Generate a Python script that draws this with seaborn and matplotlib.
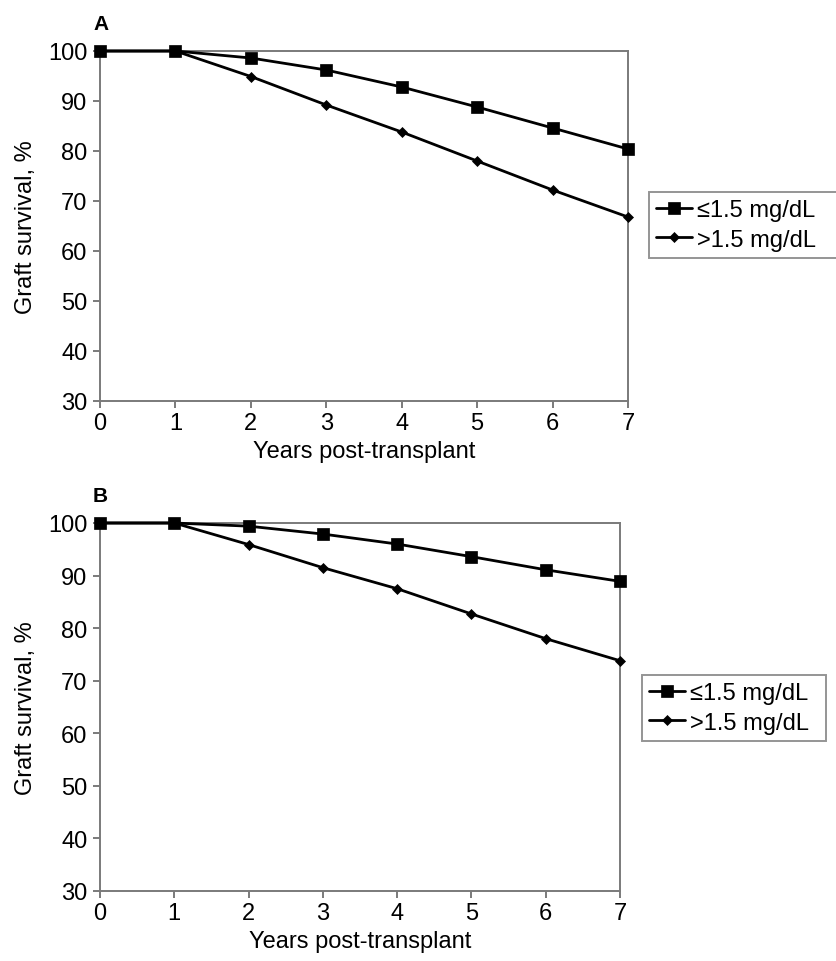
import matplotlib
matplotlib.use('Agg')
import matplotlib.pyplot as plt
import seaborn as sns
import pandas as pd

sns.set_style('white')
plt.rcParams['font.family'] = ['Liberation Sans', 'DejaVu Sans']
plt.rcParams['text.color'] = 'black'
plt.rcParams['axes.labelcolor'] = 'black'

# data
years = [0, 1, 2, 3, 4, 5, 6, 7]
a_low = [100, 100, 98.6, 96.2, 92.8, 88.8, 84.6, 80.4]
a_high = [100, 100, 94.9, 89.2, 83.8, 78.0, 72.2, 66.8]
b_low = [100, 100, 99.4, 97.9, 96.0, 93.6, 91.1, 88.9]
b_high = [100, 100, 95.9, 91.5, 87.5, 82.7, 78.0, 73.8]
labels = ['\u22641.5 mg/dL', '>1.5 mg/dL']
yticks = [30, 40, 50, 60, 70, 80, 90, 100]

W, H = 836, 962
FS = 17
GREY = '#7a7a7a'

fig = plt.figure(figsize=(W / 100, H / 100), dpi=100)

# panel name, series, axes box (px), legend box (px)
panels = [
    ('A', a_low, a_high, (100, 52, 628, 402), (649, 193, 850, 260)),
    ('B', b_low, b_high, (100, 524, 620, 892), (642, 676, 826, 740)),
]

for name, low, high, box, lbox in panels:
    x0, y0, x1, y1 = box
    ax = fig.add_axes([x0 / W, 1 - y1 / H, (x1 - x0) / W, (y1 - y0) / H])
    df = pd.DataFrame({
        'year': years * 2,
        'surv': high + low,
        'group': [labels[1]] * len(years) + [labels[0]] * len(years),
    })
    sns.lineplot(data=df, x='year', y='surv', hue='group', style='group',
                 palette=['black', 'black'], markers=['D', 's'],
                 dashes=False, ax=ax, linewidth=2.0, legend=False,
                 clip_on=False, zorder=3)
    lines = ax.get_lines()
    lines[0].set_markersize(4.8)
    lines[1].set_markersize(8.5)
    lines[1].set_zorder(4)
    for ln in lines:
        ln.set_markeredgecolor('black')
        ln.set_markeredgewidth(0.5)

    ax.set_xlim(0, 7)
    ax.set_ylim(30, 100)
    ax.set_xticks(years)
    ax.set_yticks(yticks)
    for s in ax.spines.values():
        s.set_color(GREY)
        s.set_linewidth(1.4)
    ax.tick_params(axis='both', direction='out', length=5, width=1.4,
                   color=GREY, labelcolor='black', labelsize=FS,
                   left=True, bottom=True)
    ax.tick_params(axis='x', pad=3)
    ax.tick_params(axis='y', pad=4)
    ax.set_xlabel('Years post-transplant', fontsize=FS, labelpad=4)
    ax.set_ylabel('Graft survival, %', fontsize=FS, labelpad=8)
    ax.annotate(name, xy=(0, 1), xycoords='axes fraction',
                xytext=(-5, 16), textcoords='offset points',
                fontsize=15, fontweight='bold', ha='left', va='baseline')

    lx0, ly0, lx1, ly1 = lbox
    leg = ax.legend(handles=[lines[1], lines[0]], labels=labels,
                    loc='upper left', mode='expand',
                    bbox_to_anchor=(lx0 / W, 1 - ly0 / H, (lx1 - lx0) / W, 0),
                    bbox_transform=fig.transFigure, frameon=True,
                    fancybox=False, fontsize=FS, handlelength=1.5,
                    handletextpad=0.25, borderpad=0.3, labelspacing=0.32,
                    borderaxespad=0)
    leg.get_frame().set_edgecolor(GREY)
    leg.get_frame().set_linewidth(1.4)

fig.savefig('out.png', dpi=100)
